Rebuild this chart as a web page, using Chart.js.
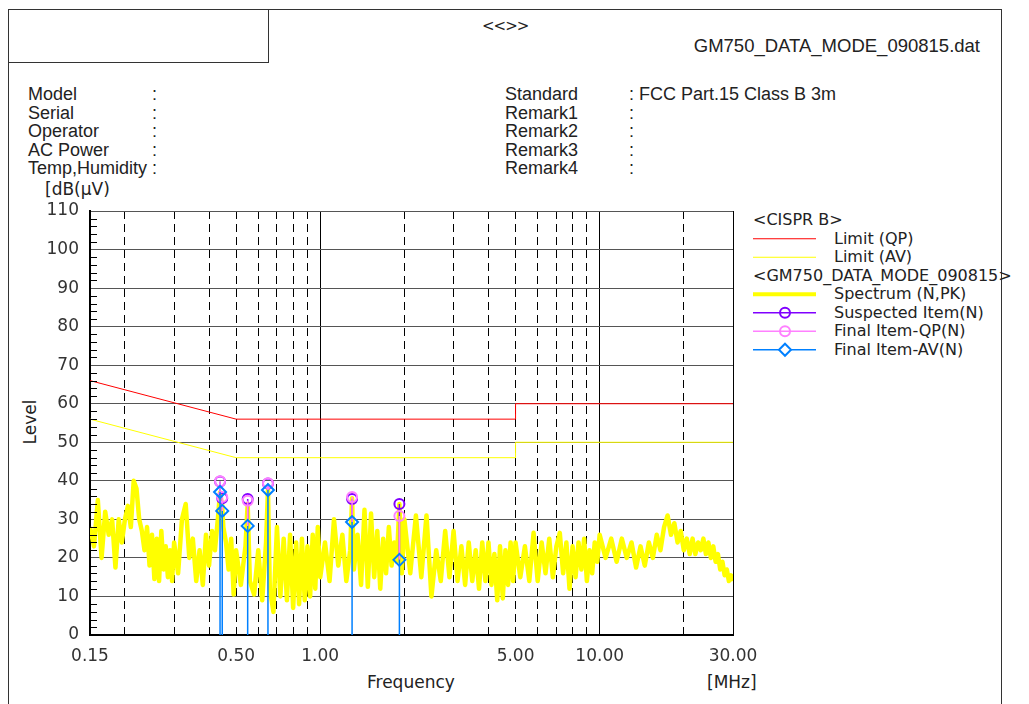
<!DOCTYPE html>
<html>
<head>
<meta charset="utf-8">
<script src="https://cdn.jsdelivr.net/npm/chart.js@4.4.0/dist/chart.umd.min.js"></script>
<style>
    body { margin: 0; background: #fff; width: 1029px; height: 704px; overflow: hidden; position: relative; font-family: "DejaVu Sans", sans-serif; color: #222; }
    .abs { position: absolute; white-space: nowrap; }
    .hdr { font-family: "Liberation Sans", Arial, sans-serif; font-size: 18px; line-height: 18.5px; color: #222; }
    .lg { font-size: 16px; line-height: 18.5px; color: #222; }
    #frame { position: absolute; left: 8px; top: 9px; width: 992px; height: 720px; border: 1px solid #333; }
    #box { position: absolute; left: 8px; top: 9px; width: 259px; height: 52px; border: 1px solid #333; }
    #chart { position: absolute; left: 0; top: 0; }
</style>
</head>
<body>
<div id="frame"></div>
<div id="box"></div>

<div class="abs lg" style="left:482px; top:17px; font-size:15px; letter-spacing:-1px;">&lt;&lt;&gt;&gt;</div>
<div class="abs hdr" style="right:49px; top:37px; font-size:18.5px;">GM750_DATA_MODE_090815.dat</div>

<div class="abs hdr" style="left:28px; top:85px;">Model<br>Serial<br>Operator<br>AC Power<br>Temp,Humidity</div>
<div class="abs hdr" style="left:152px; top:85px;">:<br>:<br>:<br>:<br>:</div>
<div class="abs hdr" style="left:505px; top:85px;">Standard<br>Remark1<br>Remark2<br>Remark3<br>Remark4</div>
<div class="abs hdr" style="left:629px; top:85px;">: FCC Part.15 Class B 3m<br>:<br>:<br>:<br>:</div>

<div class="abs lg" style="left:45px; top:180px; font-size:17px;">[dB(μV)</div>
<div class="abs lg" style="left:30px; top:422px; font-size:17px; transform: translate(-50%, -50%) rotate(-90deg);">Level</div>
<div class="abs lg" style="left:367px; top:673px; font-size:17px;">Frequency</div>
<div class="abs lg" style="left:707px; top:673px; font-size:17px;">[MHz]</div>

<!-- legend -->
<svg class="abs" style="left:740px; top:211px;" width="90" height="150">
    <line x1="13" y1="27.75" x2="76" y2="27.75" stroke="#ff0000" stroke-width="1"/>
    <line x1="13" y1="46.25" x2="76" y2="46.25" stroke="#ffff00" stroke-width="1"/>
    <line x1="13" y1="83.25" x2="76" y2="83.25" stroke="#ffff00" stroke-width="4"/>
    <line x1="13" y1="101.75" x2="76" y2="101.75" stroke="#8000ff" stroke-width="1.5"/>
    <circle cx="45" cy="101.75" r="5" fill="none" stroke="#8000ff" stroke-width="2"/>
    <line x1="13" y1="120.25" x2="76" y2="120.25" stroke="#ff80ff" stroke-width="1.5"/>
    <circle cx="45" cy="120.25" r="5" fill="none" stroke="#ff80ff" stroke-width="2"/>
    <line x1="13" y1="138.75" x2="76" y2="138.75" stroke="#0080ff" stroke-width="1.5"/>
    <polygon points="45,132.75 51,138.75 45,144.75 39,138.75" fill="#fff" stroke="#0080ff" stroke-width="2"/>
</svg>
<div class="abs lg" style="left:753px; top:211px;">&lt;CISPR B&gt;</div>
<div class="abs lg" style="left:834px; top:229.5px;">Limit (QP)<br>Limit (AV)</div>
<div class="abs lg" style="left:753px; top:266.5px;">&lt;GM750_DATA_MODE_090815&gt;</div>
<div class="abs lg" style="left:834px; top:285px;">Spectrum (N,PK)<br>Suspected Item(N)<br>Final Item-QP(N)<br>Final Item-AV(N)</div>

<canvas id="chart" width="1029" height="704"></canvas>

<script>
// EMI conducted emission plot, CISPR B limits

// axis ticks
const xGridFreqs = [0.15, 0.2, 0.3, 0.4, 0.5, 0.6, 0.7, 0.8, 0.9, 1, 2, 3, 4, 5, 6, 7, 8, 9, 10, 20, 30];
const xLabelFreqs = [0.15, 0.5, 1, 5, 10, 30];
const xSolidFreqs = [1, 10, 30];

// limit lines
const limitFreq = [0.15, 0.5, 5, 5, 30];
const limitQp = [66, 56, 56, 60, 60];
const limitAv = [56, 46, 46, 50, 50];

// measured spectrum (MHz, dBuV)
const specFreq = [
    0.150, 0.155, 0.160, 0.165, 0.170, 0.175, 0.180, 0.185, 0.190, 0.195,
    0.200, 0.205, 0.210, 0.215, 0.220, 0.225, 0.230, 0.235, 0.240, 0.245,
    0.250, 0.255, 0.260, 0.265, 0.270, 0.275, 0.280, 0.285, 0.290, 0.295,
    0.30, 0.31, 0.32, 0.33, 0.34, 0.35, 0.36, 0.37, 0.38, 0.39,
    0.40, 0.41, 0.42, 0.43, 0.438, 0.446, 0.45, 0.46, 0.47, 0.48, 0.49,
    0.50, 0.52, 0.54, 0.55, 0.56, 0.58, 0.60, 0.62, 0.64, 0.65, 0.66, 0.68,
    0.70, 0.72, 0.74, 0.76, 0.78, 0.80, 0.82, 0.84, 0.86, 0.88,
    0.90, 0.92, 0.94, 0.96, 0.98,
    1.00, 1.04, 1.08, 1.12, 1.16, 1.20, 1.24, 1.28, 1.30, 1.32, 1.36,
    1.40, 1.44, 1.48, 1.52, 1.56, 1.60, 1.64, 1.68, 1.72, 1.76,
    1.80, 1.84, 1.88, 1.92, 1.96,
    2.0, 2.1, 2.2, 2.3, 2.4, 2.5, 2.6, 2.7, 2.8, 2.9,
    3.0, 3.1, 3.2, 3.3, 3.4, 3.5, 3.6, 3.7, 3.8, 3.9,
    4.0, 4.1, 4.2, 4.3, 4.4, 4.5, 4.6, 4.7, 4.8, 4.9,
    5.0, 5.2, 5.4, 5.6, 5.8, 6.0, 6.2, 6.4, 6.6, 6.8,
    7.0, 7.2, 7.4, 7.6, 7.8, 8.0, 8.2, 8.4, 8.6, 8.8,
    9.0, 9.2, 9.4, 9.6, 9.8,
    10, 10.5, 11, 11.5, 12, 12.5, 13, 13.5, 14, 14.5,
    15, 15.5, 16, 16.5, 17, 17.5, 18, 18.5, 19, 19.5,
    20, 20.5, 21, 21.5, 22, 22.5, 23, 23.5, 24, 24.5,
    25, 25.5, 26, 26.5, 27, 27.5, 28, 28.5, 29, 29.5, 30
];
const specLevel = [
    28, 23, 35, 20, 32, 26, 30, 17.5, 30, 24,
    30, 33.5, 28, 40, 38, 30, 27, 22, 28, 18,
    26, 14.5, 25, 14, 27, 17, 23, 15, 22, 14,
    24, 16, 30, 34, 20, 25, 14, 22, 13, 26,
    18, 27, 22, 30, 37, 33.5, 28, 24, 17, 25, 10.5,
    22, 13, 23, 34, 14, 10.5, 22, 9, 24, 37.6, 12, 6,
    28, 10, 25, 9, 26, 7, 24, 8, 25, 9,
    23, 10, 26, 12, 28,
    15, 24, 14, 30, 18, 26, 14, 22, 35.5, 17, 26,
    13, 32.5, 12.5, 31.5, 15, 27, 12, 25, 16, 28,
    18, 24, 19, 34, 16,
    30, 16, 31, 15, 31, 10, 22, 14, 27, 15,
    27, 14, 23, 13, 24, 14, 22, 12, 24, 14,
    24, 13, 21, 9, 23, 9.5, 22, 13, 24, 14,
    24, 15, 23, 14, 26.5, 14, 24, 16, 25, 15,
    23, 26.5, 16, 24, 12, 23, 15, 24, 17, 25,
    14, 22, 16, 24, 19,
    26, 20, 25, 19, 25, 20, 24, 17.5, 23, 18,
    24, 20, 26, 22, 28, 31, 26, 29, 24, 27,
    22, 25, 21, 25, 21, 24, 22, 25, 21, 24,
    20, 23, 19, 21, 17, 19, 15.5, 17, 14, 15.5, 14
];

// detected items
const itemFreq = [0.438, 0.446, 0.55, 0.65, 1.30, 1.92];
const suspectedLevel = [39.8, 35.5, 35.3, 39.3, 35.3, 34.0];
const finalQpLevel = [39.9, 35.8, 34.8, 39.4, 35.8, 30.9];
const finalAvLevel = [37.1, 32.2, 28.3, 37.6, 29.3, 19.5];

// pair up x/y arrays
function toPoints(xs, ys) {
    return xs.map((x, i) => ({ x: x, y: ys[i] }));
}

// vertical stems from a base level up to each item, broken by nulls
function toStems(xs, ys, bases) {
    const pts = [];
    xs.forEach((x, i) => {
        pts.push({ x: x, y: bases ? bases[i] : 0 });
        pts.push({ x: x, y: ys[i], top: true });
        pts.push({ x: x, y: null });
    });
    return pts;
}

function stemDataset(label, levels, bases, color, style, radius, order) {
    return {
        label: label,
        data: toStems(itemFreq, levels, bases),
        borderColor: color,
        borderWidth: 1.5,
        spanGaps: false,
        pointStyle: style,
        pointRadius: c => (c.raw && c.raw.top) ? radius : 0,
        pointBorderColor: color,
        pointBackgroundColor: 'rgba(0,0,0,0)',
        pointBorderWidth: 2,
        order: order
    };
}

// short inward ticks on the level axis between the labelled ones
const minorTicks = {
    id: 'minorTicks',
    afterDraw(chart) {
        const y = chart.scales.y;
        const left = chart.chartArea.left;
        const ctx = chart.ctx;
        ctx.save();
        ctx.strokeStyle = '#000';
        ctx.lineWidth = 1;
        ctx.beginPath();
        y.ticks.forEach(t => {
            if (t.value % 10 === 0) return;
            const py = Math.round(y.getPixelForValue(t.value)) + 0.5;
            ctx.moveTo(left, py);
            ctx.lineTo(left + 7, py);
        });
        ctx.stroke();
        ctx.restore();
    }
};

const tickFont = { family: 'DejaVu Sans', size: 17 };

new Chart(document.getElementById('chart'), {
    type: 'line',
    data: {
        datasets: [
            {
                label: 'Spectrum (N,PK)',
                data: toPoints(specFreq, specLevel),
                borderColor: '#ffff00',
                borderWidth: 4.5,
                borderJoinStyle: 'round',
                pointRadius: 0,
                order: 6
            },
            {
                label: 'Limit (QP)',
                data: toPoints(limitFreq, limitQp),
                borderColor: '#ff0000',
                borderWidth: 1,
                pointRadius: 0,
                order: 5
            },
            {
                label: 'Limit (AV)',
                data: toPoints(limitFreq, limitAv),
                borderColor: '#ffff00',
                borderWidth: 1,
                pointRadius: 0,
                order: 4
            },
            stemDataset('Suspected Item(N)', suspectedLevel, finalAvLevel, '#8000ff', 'circle', 5, 3),
            stemDataset('Final Item-QP(N)', finalQpLevel, finalAvLevel, '#ff80ff', 'circle', 5, 2),
            stemDataset('Final Item-AV(N)', finalAvLevel, null, '#0080ff', 'rectRot', 6, 1)
        ]
    },
    options: {
        responsive: false,
        animation: false,
        events: [],
        layout: { padding: { left: 30, top: 211, right: 296, bottom: 0 } },
        plugins: { legend: { display: false }, tooltip: { enabled: false } },
        scales: {
            x: {
                type: 'logarithmic',
                min: 0.15,
                max: 30,
                afterBuildTicks: s => { s.ticks = xGridFreqs.map(v => ({ value: v })); },
                afterFit: s => { s.height = 69; },
                ticks: {
                    autoSkip: false,
                    maxRotation: 0,
                    padding: 11,
                    color: '#333',
                    font: tickFont,
                    callback: v => xLabelFreqs.includes(v) ? v.toFixed(2) : ''
                },
                grid: { color: '#000', lineWidth: 1, drawTicks: false },
                border: {
                    color: '#000',
                    width: 2,
                    dash: c => c.tick ? (xSolidFreqs.includes(c.tick.value) ? [] : [8, 5]) : []
                }
            },
            y: {
                min: 0,
                max: 110,
                afterFit: s => { s.width = 60; },
                ticks: {
                    stepSize: 2,
                    autoSkip: false,
                    padding: 11,
                    color: '#333',
                    font: tickFont,
                    callback: v => v % 10 === 0 ? v : ''
                },
                grid: {
                    color: c => (c.tick && c.tick.value % 10 === 0) ? '#555' : 'rgba(0,0,0,0)',
                    lineWidth: 1,
                    drawTicks: false
                },
                border: { color: '#000', width: 2 }
            }
        }
    },
    plugins: [minorTicks]
});
</script>
</body>
</html>
